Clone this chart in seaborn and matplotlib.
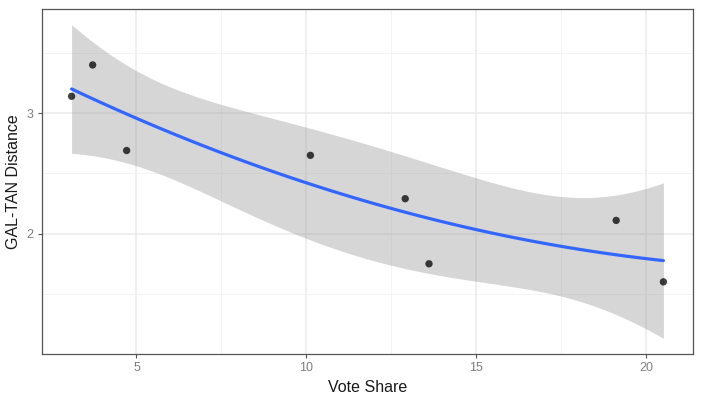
import math
import numpy as np
import pandas as pd
import matplotlib
matplotlib.use("Agg")
import matplotlib.pyplot as plt
import seaborn as sns

# values
vote_share = [3.09, 3.71, 4.71, 10.12, 12.91, 13.61, 19.12, 20.51]
galtan_distance = [3.14, 3.40, 2.69, 2.65, 2.29, 1.75, 2.11, 1.60]
x_ticks = [5, 10, 15, 20]
y_ticks = [2, 3]


def t_quantile(p, df):
    # invert the t cdf numerically (no scipy needed)
    grid = np.linspace(0, 20, 200001)
    c = math.gamma((df + 1) / 2) / (math.sqrt(df * math.pi) * math.gamma(df / 2))
    pdf = c * (1 + grid ** 2 / df) ** (-(df + 1) / 2)
    cdf = 0.5 + np.concatenate([[0], np.cumsum((pdf[1:] + pdf[:-1]) / 2 * np.diff(grid))])
    return float(np.interp(p, cdf, grid))


def quad_smooth(x, y, xs, level=0.95):
    # 2nd order least squares fit with a confidence band
    x = np.asarray(x, float)
    y = np.asarray(y, float)
    X = np.column_stack([np.ones_like(x), x, x ** 2])
    b, *_ = np.linalg.lstsq(X, y, rcond=None)
    dof = len(x) - X.shape[1]
    s2 = np.sum((y - X @ b) ** 2) / dof
    Xs = np.column_stack([np.ones_like(xs), xs, xs ** 2])
    fit = Xs @ b
    se = np.sqrt(s2 * np.sum((Xs @ np.linalg.inv(X.T @ X)) * Xs, axis=1))
    t = t_quantile(0.5 + level / 2, dof)
    return fit, fit - t * se, fit + t * se


df = pd.DataFrame({"Vote Share": vote_share, "GAL-TAN Distance": galtan_distance})
xs = np.linspace(min(vote_share), max(vote_share), 80)
fit, lo, hi = quad_smooth(vote_share, galtan_distance, xs)
smooth = pd.DataFrame({"x": xs, "fit": fit})

sns.set_theme(style="white")
plt.rcParams["font.family"] = ["Liberation Sans", "DejaVu Sans"]

fig = plt.figure(figsize=(7.02, 3.96), dpi=100)
ax = fig.add_axes([42 / 702, 42 / 396, 651 / 702, 345 / 396])

ax.fill_between(xs, lo, hi, color="#999999", alpha=0.4, linewidth=0, zorder=2)
sns.lineplot(data=smooth, x="x", y="fit", color="#3366FF", linewidth=2.3, ax=ax, zorder=3)
sns.scatterplot(data=df, x="Vote Share", y="GAL-TAN Distance", color="black", alpha=0.75,
                s=28, edgecolor="none", ax=ax, zorder=4)

# ggplot-ish limits (5% expansion)
xr = max(vote_share) - min(vote_share)
ax.set_xlim(min(vote_share) - 0.05 * xr, max(vote_share) + 0.05 * xr)
ymin = min(min(galtan_distance), lo.min())
ymax = max(max(galtan_distance), hi.max())
yr = ymax - ymin
ax.set_ylim(ymin - 0.05 * yr, ymax + 0.05 * yr)

ax.set_xticks(x_ticks)
ax.set_yticks(y_ticks)
ax.set_xticks([7.5, 12.5, 17.5], minor=True)
ax.set_yticks([1.5, 2.5, 3.5], minor=True)
ax.grid(True, which="major", color="#EBEBEB", linewidth=1.1, zorder=0)
ax.grid(True, which="minor", color="#F2F2F2", linewidth=0.6, zorder=0)
ax.set_axisbelow(True)
ax.tick_params(which="major", length=3, width=0.8, color="#555555",
               labelcolor="#7F7F7F", labelsize=9, pad=3, bottom=True, left=True)
ax.tick_params(which="minor", length=0)
for sp in ax.spines.values():
    sp.set_color("#555555")
    sp.set_linewidth(0.9)

ax.set_xlabel("Vote Share", fontsize=11.5, color="#1A1A1A", labelpad=4)
ax.set_ylabel("GAL-TAN Distance", fontsize=11.5, color="#1A1A1A", labelpad=4)

fig.savefig("out.png", dpi=100)
